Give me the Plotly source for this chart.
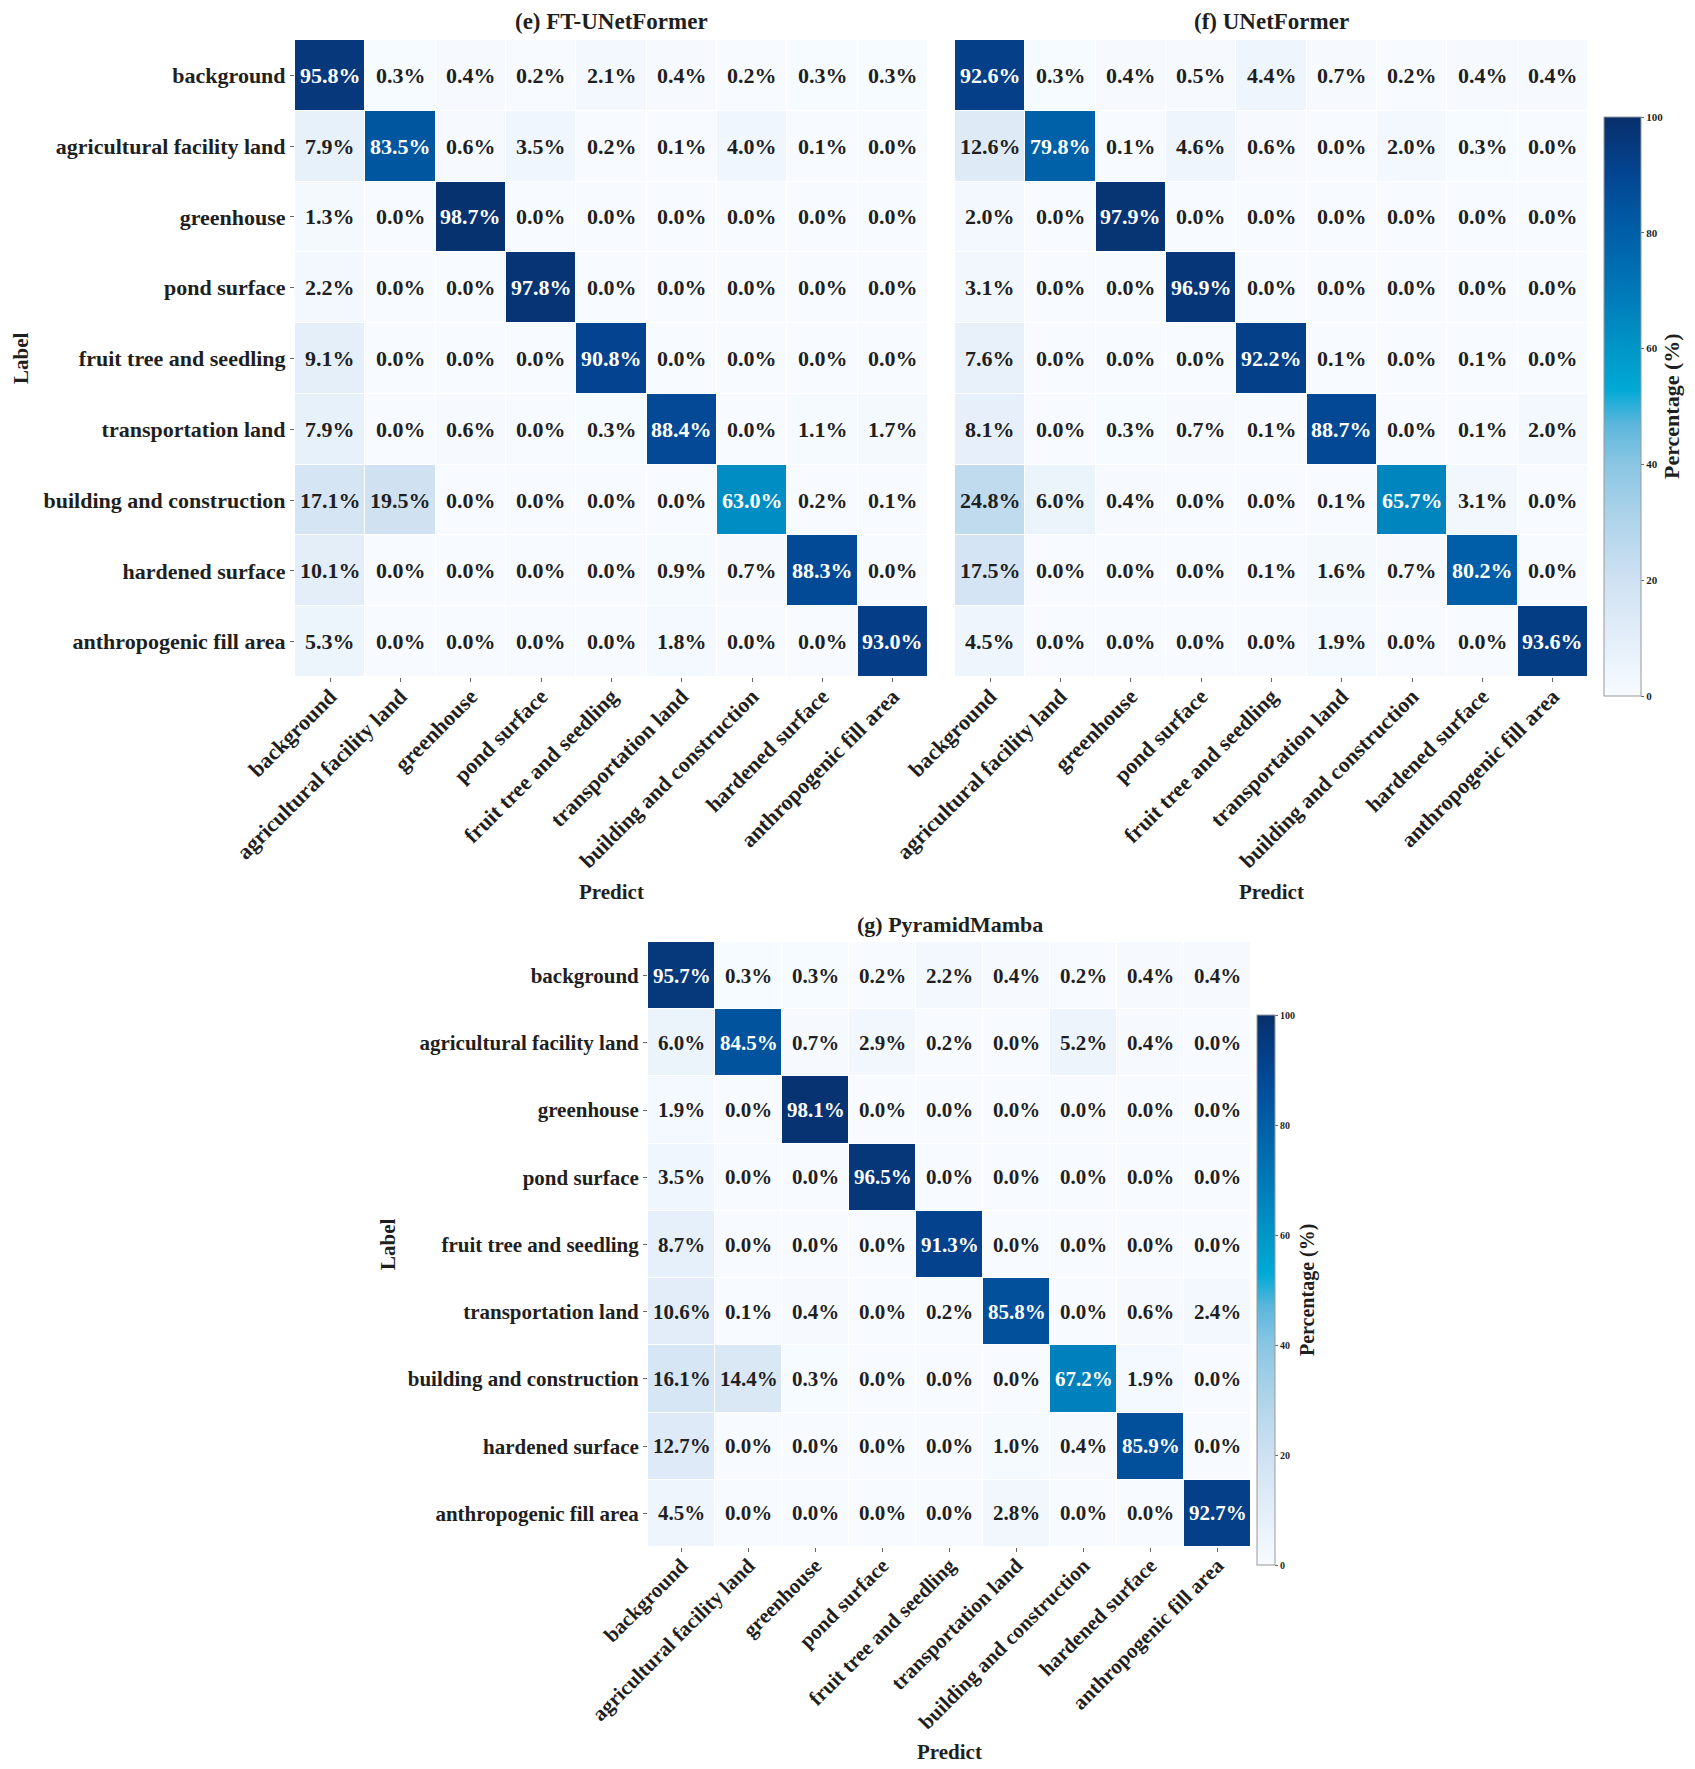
import plotly.graph_objects as go

classes = ["background", "agricultural facility land", "greenhouse", "pond surface",
           "fruit tree and seedling", "transportation land", "building and construction",
           "hardened surface", "anthropogenic fill area"]

ft_unetformer = [
    [95.8, 0.3, 0.4, 0.2, 2.1, 0.4, 0.2, 0.3, 0.3],
    [7.9, 83.5, 0.6, 3.5, 0.2, 0.1, 4.0, 0.1, 0.0],
    [1.3, 0.0, 98.7, 0.0, 0.0, 0.0, 0.0, 0.0, 0.0],
    [2.2, 0.0, 0.0, 97.8, 0.0, 0.0, 0.0, 0.0, 0.0],
    [9.1, 0.0, 0.0, 0.0, 90.8, 0.0, 0.0, 0.0, 0.0],
    [7.9, 0.0, 0.6, 0.0, 0.3, 88.4, 0.0, 1.1, 1.7],
    [17.1, 19.5, 0.0, 0.0, 0.0, 0.0, 63.0, 0.2, 0.1],
    [10.1, 0.0, 0.0, 0.0, 0.0, 0.9, 0.7, 88.3, 0.0],
    [5.3, 0.0, 0.0, 0.0, 0.0, 1.8, 0.0, 0.0, 93.0],
]

unetformer = [
    [92.6, 0.3, 0.4, 0.5, 4.4, 0.7, 0.2, 0.4, 0.4],
    [12.6, 79.8, 0.1, 4.6, 0.6, 0.0, 2.0, 0.3, 0.0],
    [2.0, 0.0, 97.9, 0.0, 0.0, 0.0, 0.0, 0.0, 0.0],
    [3.1, 0.0, 0.0, 96.9, 0.0, 0.0, 0.0, 0.0, 0.0],
    [7.6, 0.0, 0.0, 0.0, 92.2, 0.1, 0.0, 0.1, 0.0],
    [8.1, 0.0, 0.3, 0.7, 0.1, 88.7, 0.0, 0.1, 2.0],
    [24.8, 6.0, 0.4, 0.0, 0.0, 0.1, 65.7, 3.1, 0.0],
    [17.5, 0.0, 0.0, 0.0, 0.1, 1.6, 0.7, 80.2, 0.0],
    [4.5, 0.0, 0.0, 0.0, 0.0, 1.9, 0.0, 0.0, 93.6],
]

pyramidmamba = [
    [95.7, 0.3, 0.3, 0.2, 2.2, 0.4, 0.2, 0.4, 0.4],
    [6.0, 84.5, 0.7, 2.9, 0.2, 0.0, 5.2, 0.4, 0.0],
    [1.9, 0.0, 98.1, 0.0, 0.0, 0.0, 0.0, 0.0, 0.0],
    [3.5, 0.0, 0.0, 96.5, 0.0, 0.0, 0.0, 0.0, 0.0],
    [8.7, 0.0, 0.0, 0.0, 91.3, 0.0, 0.0, 0.0, 0.0],
    [10.6, 0.1, 0.4, 0.0, 0.2, 85.8, 0.0, 0.6, 2.4],
    [16.1, 14.4, 0.3, 0.0, 0.0, 0.0, 67.2, 1.9, 0.0],
    [12.7, 0.0, 0.0, 0.0, 0.0, 1.0, 0.4, 85.9, 0.0],
    [4.5, 0.0, 0.0, 0.0, 0.0, 2.8, 0.0, 0.0, 92.7],
]

panel_titles = ["(e) FT-UNetFormer", "(f) UNetFormer", "(g) PyramidMamba"]
cbar_ticks = [0, 20, 40, 60, 80, 100]

# page has an 8px body margin: size the figure so it fits the window exactly
OFF = 8
PAGE_W, PAGE_H = 1695, 1769
W, H = PAGE_W - OFF, PAGE_H - OFF
FONT = "Liberation Serif"
DARK = "#1f1f1f"

colorscale = [
    [0.0, "#f7fbff"], [0.1, "#e3eef9"], [0.2, "#cfe1f2"], [0.3, "#b0d4ea"],
    [0.4, "#8ac6e3"], [0.47, "#5bb6dc"], [0.53, "#00a9d6"], [0.6, "#0096c8"],
    [0.7, "#0078b8"], [0.8, "#005fa8"], [0.9, "#034592"], [1.0, "#082f6b"],
]


def px_x(v):
    return (v - OFF) / W


def px_y(v):
    return 1 - (v - OFF) / H


fig = go.Figure()

panels = [
    (ft_unetformer, "x", "y", "coloraxis", 22),
    (unetformer, "x2", "y2", "coloraxis", 22),
    (pyramidmamba, "x3", "y3", "coloraxis2", 21),
]

annotations = []
for data, xa, ya, ca, fs in panels:
    fig.add_trace(go.Heatmap(
        z=data, x=classes, y=classes, xaxis=xa, yaxis=ya, coloraxis=ca,
        xgap=1, ygap=1, hoverinfo="skip"))
    for i, row in enumerate(data):
        for j, v in enumerate(row):
            annotations.append(dict(
                x=classes[j], y=classes[i], xref=xa, yref=ya,
                text=f"{v:.1f}%", showarrow=False,
                font=dict(family=FONT, size=fs, weight="bold",
                          color="white" if v >= 50 else DARK)))

axis_common = dict(type="category", showgrid=False, zeroline=False, showline=False,
                   ticklen=4, tickwidth=1, tickcolor="#666", automargin=False)

top_tick = dict(size=22, weight="bold", family=FONT)
bot_tick = dict(size=21, weight="bold", family=FONT)

fig.update_layout(
    width=W, height=H, autosize=False,
    margin=dict(l=0, r=0, t=0, b=0, autoexpand=False),
    paper_bgcolor="white", plot_bgcolor="white",
    font=dict(family=FONT, color=DARK),
    xaxis=dict(domain=[px_x(295), px_x(928)], anchor="y", tickangle=-45, ticks="outside",
               ticklabelstandoff=-7, tickfont=top_tick, **axis_common),
    yaxis=dict(domain=[px_y(677), px_y(40)], anchor="x", autorange="reversed", ticks="outside",
               tickfont=top_tick, **axis_common),
    xaxis2=dict(domain=[px_x(955), px_x(1588)], anchor="y2", tickangle=-45, ticks="outside",
                ticklabelstandoff=-7, tickfont=top_tick, **axis_common),
    yaxis2=dict(domain=[px_y(677), px_y(40)], anchor="x2", autorange="reversed",
                showticklabels=False, ticks="", **axis_common),
    xaxis3=dict(domain=[px_x(648), px_x(1251)], anchor="y3", tickangle=-45, ticks="outside",
                ticklabelstandoff=-7, tickfont=bot_tick, **axis_common),
    yaxis3=dict(domain=[px_y(1547), px_y(942)], anchor="x3", autorange="reversed", ticks="outside",
                tickfont=bot_tick, **axis_common),
    coloraxis=dict(
        cmin=0, cmax=100, colorscale=colorscale,
        colorbar=dict(
            x=px_x(1604), xanchor="left", xpad=0, ypad=0,
            y=px_y(117), yanchor="top", len=579, lenmode="pixels",
            thickness=37, thicknessmode="pixels",
            outlinewidth=1, outlinecolor="#999",
            tickvals=cbar_ticks, ticks="outside", ticklen=3, tickcolor="#666",
            tickfont=dict(size=11, family=FONT, weight="bold"))),
    coloraxis2=dict(
        cmin=0, cmax=100, colorscale=colorscale,
        colorbar=dict(
            x=px_x(1257), xanchor="left", xpad=0, ypad=0,
            y=px_y(1015), yanchor="top", len=550, lenmode="pixels",
            thickness=18, thicknessmode="pixels",
            outlinewidth=1, outlinecolor="#999",
            tickvals=cbar_ticks, ticks="outside", ticklen=3, tickcolor="#666",
            tickfont=dict(size=10, family=FONT, weight="bold"))),
)

title_font = dict(family=FONT, size=23, weight="bold", color=DARK)
axis_title_font = dict(family=FONT, size=21, weight="bold", color=DARK)


def paper_text(x, y, text, font, angle=0):
    return dict(x=px_x(x), y=px_y(y), xref="paper", yref="paper", text=text,
                showarrow=False, font=font, textangle=angle,
                xanchor="center", yanchor="middle")


annotations += [
    paper_text(611.5, 21, panel_titles[0], title_font),
    paper_text(1271.5, 21, panel_titles[1], title_font),
    paper_text(949.5, 925, panel_titles[2], dict(family=FONT, size=22, weight="bold", color=DARK)),
    paper_text(611.5, 892, "Predict", axis_title_font),
    paper_text(1271.5, 892, "Predict", axis_title_font),
    paper_text(949.5, 1752, "Predict", axis_title_font),
    paper_text(21, 358, "Label", axis_title_font, -90),
    paper_text(388, 1244, "Label", axis_title_font, -90),
    paper_text(1672, 406, "Percentage (%)", dict(family=FONT, size=22, weight="bold", color=DARK), -90),
    paper_text(1307, 1290, "Percentage (%)", dict(family=FONT, size=20, weight="bold", color=DARK), -90),
]

fig.update_layout(annotations=annotations)
fig.write_html("out.html")
